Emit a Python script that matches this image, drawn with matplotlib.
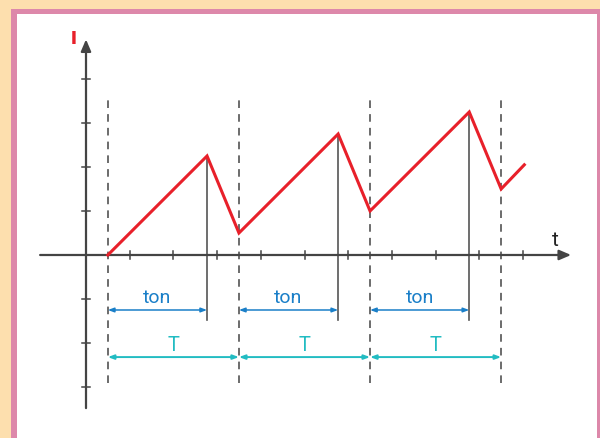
import matplotlib
matplotlib.use('Agg')
import matplotlib.pyplot as plt
from matplotlib.patches import Rectangle

plt.rcParams['font.family'] = ['Roboto', 'DejaVu Sans']

# current waveform: corner times and values (tick units)
t_pts = [0.5, 2.77, 3.5, 5.77, 6.5, 8.77, 9.5, 10.03]
i_pts = [0.0, 2.25, 0.5, 2.75, 1.0, 3.25, 1.5, 2.05]

period_starts = [0.5, 3.5, 6.5, 9.5]
peak_times = [2.77, 5.77, 8.77]
period_len = 3.0

x_ticks = list(range(1, 11))
y_ticks = [-3, -2, -1, 1, 2, 3, 4]

RED = '#e8202a'
BLUE = '#1a7fc8'
TEAL = '#22bcc2'
AX = '#444444'

fig = plt.figure(figsize=(6, 4.38), dpi=100)
fig.patch.set_facecolor('#fddfae')

# frame: pink border around white panel
bg = fig.add_axes([0, 0, 1, 1])
bg.set_xlim(0, 600)
bg.set_ylim(438, 0)
bg.axis('off')
bg.add_patch(Rectangle((11, 8.5), 600, 440, facecolor='#dd88aa', edgecolor='none'))
bg.add_patch(Rectangle((16.5, 14), 580.5, 440, facecolor='white', edgecolor='none'))

ax = fig.add_axes([0, 0, 1, 1])
ax.set_xlim(-1.968, 11.762)
ax.set_ylim(-4.159, 5.795)
ax.axis('off')
ax.patch.set_alpha(0)

# axes with arrow heads
ax.annotate('', xy=(11.1, 0), xytext=(-1.05, 0),
            arrowprops=dict(arrowstyle='-|>,head_length=0.7,head_width=0.3',
                            color=AX, lw=1.6, shrinkA=0, shrinkB=0))
ax.annotate('', xy=(0, 4.9), xytext=(0, -3.48),
            arrowprops=dict(arrowstyle='-|>,head_length=0.7,head_width=0.3',
                            color=AX, lw=1.6, shrinkA=0, shrinkB=0))
for xt in x_ticks:
    ax.plot([xt, xt], [-0.09, 0.09], color=AX, lw=1.1)
for yt in y_ticks:
    ax.plot([-0.1, 0.1], [yt, yt], color=AX, lw=1.1)

ax.text(-0.22, 4.92, 'I', color=RED, fontsize=14, fontweight='heavy',
        ha='right', va='center')
ax.text(10.75, 0.32, 't', color='#222222', fontsize=15,
        ha='center', va='center')

# period markers
for ts in period_starts:
    ax.plot([ts, ts], [-2.9, 3.52], color=AX, lw=1.1, ls=(0, (5, 4)))
for tp in peak_times:
    ax.plot([tp, tp], [-1.48, i_pts[t_pts.index(tp)]], color='#555555', lw=1.2)

ax.plot(t_pts, i_pts, color=RED, lw=2.2, solid_joinstyle='miter', zorder=5)

# ton and T dimension arrows
dim = dict(arrowstyle='<|-|>,head_length=0.35,head_width=0.13',
           shrinkA=0, shrinkB=0)
for ts, tp in zip(period_starts, peak_times):
    ax.annotate('', xy=(tp, -1.25), xytext=(ts, -1.25),
                arrowprops=dict(color=BLUE, lw=1.1, **dim))
    ax.text((ts + tp) / 2, -0.98, 'ton', color=BLUE, fontsize=14,
            ha='center', va='center')
    ax.annotate('', xy=(ts + period_len, -2.32), xytext=(ts, -2.32),
                arrowprops=dict(color=TEAL, lw=1.4, **dim))
    ax.text(ts + period_len / 2, -2.05, 'T', color=TEAL, fontsize=14.5,
            ha='center', va='center')

fig.savefig('out.png', dpi=100, facecolor=fig.get_facecolor())
